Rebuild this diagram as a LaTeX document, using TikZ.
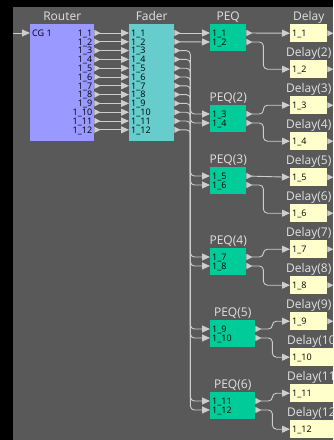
\documentclass[tikz,border=0pt]{standalone}
\usepackage{fontspec}
\setmainfont{Open Sans}
\usetikzlibrary{calc,arrows.meta,positioning}

\definecolor{canvas}{HTML}{595959}
\definecolor{routerfill}{HTML}{9999FF}
\definecolor{faderfill}{HTML}{66CCCC}
\definecolor{peqfill}{HTML}{00CC99}
\definecolor{delayfill}{HTML}{FFFFCC}
\definecolor{wirecol}{HTML}{CDCDCD}
\definecolor{headcol}{HTML}{E2E2E2}

\tikzset{
  block/.style={anchor=north west,inner sep=0pt,minimum height=#1},
  head/.style={text=headcol,font=\fontsize{12}{12}\selectfont,inner sep=0pt,anchor=base,yshift=3.5pt},
  portlbl/.style={font=\fontsize{9}{9}\selectfont,inner sep=0pt},
  wire/.style={draw=wirecol,line width=0.9pt,rounded corners=4pt,
    {Triangle[reversed,length=6pt,width=6pt]}-{Triangle[length=8pt,width=7pt]}},
  wirein/.style={draw=wirecol,line width=0.9pt,-{Triangle[length=8pt,width=7pt]}}
}

\begin{document}
\begin{tikzpicture}[x=1pt,y=-1pt]
\useasboundingbox (0,0) rectangle (333,440);
\fill[black] (0,0) rectangle (333,440);
\fill[canvas] (13,7) rectangle (333,440);
% ---- router and fader ----
\node[block=117pt,minimum width=64pt,fill=routerfill] (router) at (30,24) {};
\node[head] at (router.north) {Router};
\node[block=117pt,minimum width=45pt,fill=faderfill] (fader) at (129,24) {};
\node[head] at (fader.north) {Fader};
\coordinate (ri) at ($(router.north west)+(0,9)$);
\coordinate (cgin) at (13,33);
\node[portlbl,anchor=base west] at ($(ri)+(2,3.2)$) {CG 1};
\draw[wirein] (cgin) -- (ri);
\foreach \k in {1,...,12}{
  \coordinate (ro\k) at ($(router.north east)+(0,{9+8.8*(\k-1)})$);
  \coordinate (fi\k) at ($(fader.north west)+(0,{9+8.8*(\k-1)})$);
  \coordinate (fo\k) at ($(fader.north east)+(0,{9+8.8*(\k-1)})$);
  \node[portlbl,anchor=base east] at ($(ro\k)+(-2,3.2)$) {1\_\k};
  \node[portlbl,anchor=base west] at ($(fi\k)+(2,3.2)$) {1\_\k};
}
% ---- PEQ blocks ----
\foreach \n/\t/\w in {1/24/36,2/105/36,3/167/36,4/248/36,5/320/45,6/392/45}{
  \pgfmathtruncatemacro\a{2*\n-1}
  \pgfmathtruncatemacro\b{2*\n}
  \node[block=27pt,minimum width=\w pt,fill=peqfill] (peq\n) at (210,\t) {};
  \node[head] at (peq\n.north) {\ifnum\n=1 PEQ\else PEQ(\n)\fi};
  \coordinate (pi\a) at ($(peq\n.north west)+(0,9)$);
  \coordinate (pi\b) at ($(peq\n.north west)+(0,18)$);
  \coordinate (po\a) at ($(peq\n.north east)+(0,9)$);
  \coordinate (po\b) at ($(peq\n.north east)+(0,18)$);
  \node[portlbl,anchor=base west] at ($(pi\a)+(2,3.2)$) {1\_\a};
  \node[portlbl,anchor=base west] at ($(pi\b)+(2,3.2)$) {1\_\b};
}
% ---- delay blocks ----
\foreach \k in {1,...,12}{
  \pgfmathtruncatemacro\w{\k<10 ? 37 : 46}
  \node[block=18pt,minimum width=\w pt,fill=delayfill] (dly\k) at (290,{24+36*(\k-1)}) {};
  \node[head] at (dly\k.north) {\ifnum\k=1 Delay\else Delay(\k)\fi};
  \node[portlbl,anchor=base west] at ($(dly\k.west)+(2,3.2)$) {1\_\k};
  \fill[wirecol] (dly\k.east) ++(0,-3) -- ++(6,3) -- ++(-6,3) -- cycle;
}
% ---- wiring ----
\foreach \k in {1,...,12} \draw[wire] (ro\k) -- (fi\k);
\draw[wire] (fo1) -- (pi1);
\draw[wire] (fo2) -- (pi2);
\foreach \k in {3,...,12} \draw[wire] (fo\k) -- ++(16,0) |- (pi\k);
\foreach \k in {1,5} \draw[wire] (po\k) -- (dly\k.west);
\foreach \k in {2,3,4,6,7,8,9,10,11,12} \draw[wire] (po\k) -- ++(17,0) |- (dly\k.west);
\end{tikzpicture}
\end{document}
